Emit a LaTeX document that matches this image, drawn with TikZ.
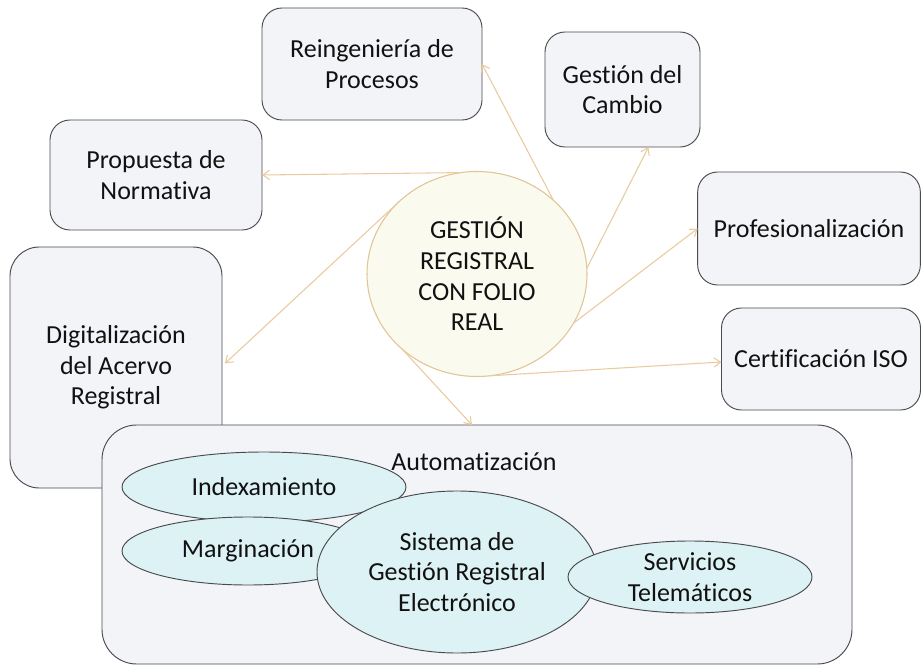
\documentclass[tikz,border=0pt]{standalone}
\usepackage{fontspec}
\setmainfont{Carlito}[Ligatures={NoCommon,NoContextual}]
\usetikzlibrary{shapes.geometric,arrows.meta,calc}
\definecolor{boxfill}{HTML}{F3F4F7}
\definecolor{boxline}{HTML}{4A4A4E}
\definecolor{ellfill}{HTML}{DDF2F4}
\definecolor{circfill}{HTML}{FAFAEE}
\definecolor{circline}{HTML}{E0C597}
\definecolor{arrowc}{HTML}{EACB9F}
\definecolor{txt}{HTML}{111111}
\tikzset{
  lbl/.style={font=\fontsize{19.5pt}{23pt}\selectfont, text=txt, align=center},
  topicbox/.style={lbl, draw=boxline, fill=boxfill, line width=0.7pt, rounded corners=15pt, inner sep=0pt, outer sep=0pt},
  oval/.style={lbl, ellipse, draw=boxline, fill=ellfill, line width=0.7pt, inner sep=0pt, outer sep=0pt},
  hub/.style={lbl, ellipse, draw=circline, fill=circfill, line width=0.8pt, inner sep=0pt, outer sep=0pt},
  link/.style={draw=arrowc, line width=0.8pt, -{Straight Barb[length=5pt,width=7pt]}}
}
\begin{document}
\begin{tikzpicture}[x=0.75pt,y=-0.75pt]
\useasboundingbox (0,0) rectangle (923,666);
\fill[white] (0,0) rectangle (923,666);

% central hub
\node[hub, minimum width=165pt, minimum height=153.75pt] (c) at (477,274) {GESTIÓN\\REGISTRAL\\CON FOLIO\\REAL};

% surrounding boxes
\node[topicbox, minimum width=165pt, minimum height=84pt] (rei) at (372,64) {Reingeniería de\\Procesos};
\node[topicbox, minimum width=116.25pt, minimum height=86.25pt] (gc) at (622.5,89.5) {Gestión del\\Cambio};
\node[topicbox, minimum width=159pt, minimum height=82.5pt] (prop) at (156,175) {Propuesta de\\Normativa};
\node[topicbox, minimum width=167pt, minimum height=84.75pt] (prof) at (809,228.5) {Profesionalización};
\node[topicbox, minimum width=149.25pt, minimum height=76.5pt] (cert) at (821,359) {Certificación ISO};
\node[topicbox, rounded corners=22pt, minimum width=159pt, minimum height=180.75pt] (dig) at (116,367.5) {Digitalización\\del Acervo\\Registral};

% bottom container
\node[topicbox, rounded corners=26pt, minimum width=562.5pt, minimum height=179.25pt] (bb) at (477,544.5) {};
\node[lbl] (auto) at (474,462) {Automatización};
\node[oval, minimum width=213pt, minimum height=52.5pt] (idx) at (264,487) {Indexamiento};
\node[oval, minimum width=189pt, minimum height=51pt] (marg) at (248,551) {Marginación};
\node[oval, minimum width=210pt, minimum height=121.5pt] (sis) at (457,572) {Sistema de\\Gestión Registral\\Electrónico};
\node[oval, minimum width=183pt, minimum height=54pt] (serv) at (690,577) {Servicios\\Telemáticos};

% connectors
\draw[link] (c.44) -- (rei.east);
\draw[link] (c.3) -- ($(gc.south)+(26,0)$);
\draw[link] (c.99) -- (prop.east);
\draw[link] (c.137) -- ($(dig.east)+(3,-4)$);
\draw[link] (c.-27) -- (prof.west);
\draw[link] (c.-83) -- ($(cert.west)+(0,3)$);
\draw[link] (c.-135) -- ($(bb.north)+(-5,0)$);
\end{tikzpicture}
\end{document}
